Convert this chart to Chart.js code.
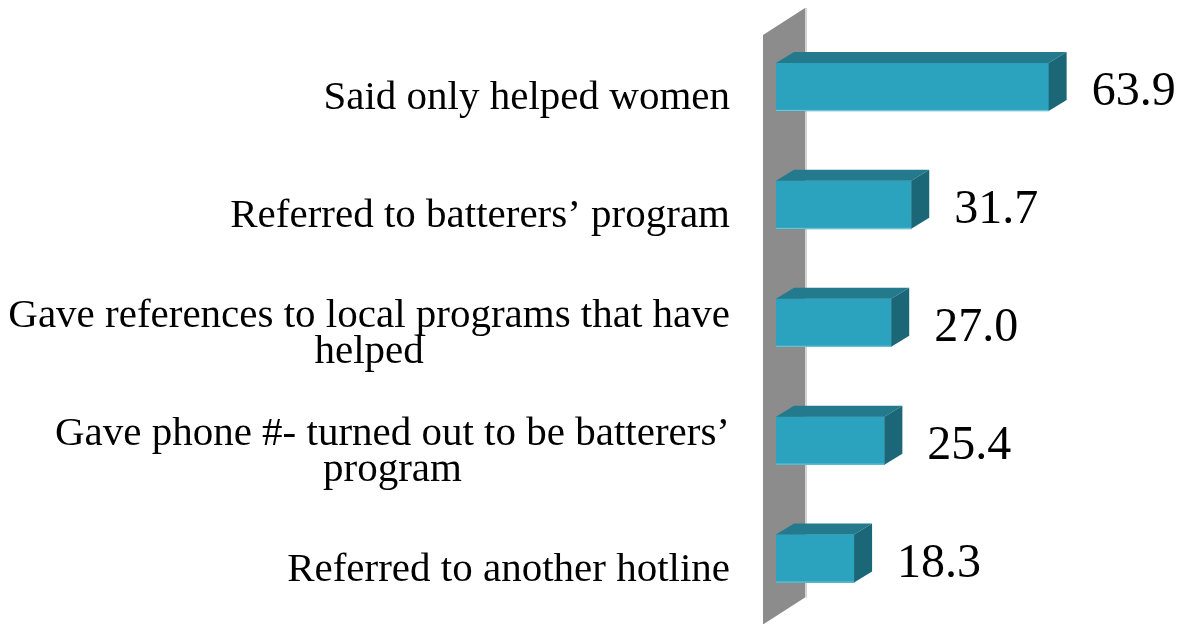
<!DOCTYPE html>
<html>
<head>
<meta charset="utf-8">
<script src="https://cdn.jsdelivr.net/npm/chart.js@4/dist/chart.umd.min.js"></script>
<style>
  html, body { margin: 0; padding: 0; background: #fff; }
  #wrap { width: 1192px; height: 624px; position: relative; }
</style>
</head>
<body>
<div id="wrap"><canvas id="chart"></canvas></div>
<script>
// category labels (multi-line ones are split into lines)
const categories = [
  ["Said only helped women"],
  ["Referred to batterers’ program"],
  ["Gave references to local programs that have", "helped"],
  ["Gave phone #- turned out to be batterers’", "program"],
  ["Referred to another hotline"]
];
const values = [63.9, 31.7, 27.0, 25.4, 18.3];

const FRONT = "#2ba3bf";
const TOP = "#237a8d";
const SIDE = "#1c6777";
const DEPTH_X = 18, DEPTH_Y = 11;

// grey 3D wall behind the bars
const wallPlugin = {
  id: "wall",
  beforeDatasetsDraw(chart) {
    const ctx = chart.ctx;
    const area = chart.chartArea;
    const x0 = chart.scales.x.getPixelForValue(0);
    ctx.save();
    ctx.fillStyle = "#8c8c8c";
    ctx.beginPath();
    ctx.moveTo(x0 - 13, area.top + 7);
    ctx.lineTo(x0 + 29, area.top - 20);
    ctx.lineTo(x0 + 29, area.bottom - 20);
    ctx.lineTo(x0 - 13, area.bottom + 7);
    ctx.closePath();
    ctx.fill();
    ctx.strokeStyle = "#d4d4d4";
    ctx.lineWidth = 2;
    ctx.beginPath();
    ctx.moveTo(x0 + 30, area.top - 20);
    ctx.lineTo(x0 + 30, area.bottom - 20);
    ctx.stroke();
    ctx.restore();
  }
};

// top and side faces of each bar, plus value labels
const barFacesPlugin = {
  id: "barFaces",
  afterDatasetsDraw(chart) {
    const ctx = chart.ctx;
    const meta = chart.getDatasetMeta(0);
    ctx.save();
    meta.data.forEach((bar, i) => {
      const top = bar.y - bar.height / 2;
      const bottom = bar.y + bar.height / 2;
      const left = bar.base;
      const right = bar.x;
      // top face
      ctx.fillStyle = TOP;
      ctx.beginPath();
      ctx.moveTo(left, top);
      ctx.lineTo(left + DEPTH_X, top - DEPTH_Y);
      ctx.lineTo(right + DEPTH_X, top - DEPTH_Y);
      ctx.lineTo(right, top);
      ctx.closePath();
      ctx.fill();
      // side face
      ctx.fillStyle = SIDE;
      ctx.beginPath();
      ctx.moveTo(right, top);
      ctx.lineTo(right + DEPTH_X, top - DEPTH_Y);
      ctx.lineTo(right + DEPTH_X, bottom - DEPTH_Y);
      ctx.lineTo(right, bottom);
      ctx.closePath();
      ctx.fill();
      // light bottom edge
      ctx.strokeStyle = "#7cc6d8";
      ctx.lineWidth = 1;
      ctx.beginPath();
      ctx.moveTo(left, bottom - 0.5);
      ctx.lineTo(right, bottom - 0.5);
      ctx.stroke();
      // value label
      ctx.fillStyle = "#000";
      ctx.font = "48px 'Liberation Serif', serif";
      ctx.textAlign = "left";
      ctx.textBaseline = "alphabetic";
      ctx.fillText(values[i].toFixed(1), right + 43, bar.y + 18);
    });
    ctx.restore();
  }
};

// category labels: block right-aligned, lines centred inside the block
const catLabelPlugin = {
  id: "catLabels",
  afterDraw(chart) {
    const ctx = chart.ctx;
    const yScale = chart.scales.y;
    const rightEdge = chart.chartArea.left - 46;
    const lineH = 36;
    ctx.save();
    ctx.fillStyle = "#000";
    ctx.font = "41px 'Liberation Serif', serif";
    ctx.textAlign = "center";
    ctx.textBaseline = "alphabetic";
    categories.forEach((lines, i) => {
      const y = yScale.getPixelForValue(i);
      const maxW = Math.max(...lines.map(l => ctx.measureText(l).width));
      const cx = rightEdge - maxW / 2;
      const first = y + 22 - (lines.length - 1) * lineH / 2;
      lines.forEach((l, k) => ctx.fillText(l, cx, first + k * lineH));
    });
    ctx.restore();
  }
};

new Chart(document.getElementById("chart"), {
  type: "bar",
  data: {
    labels: categories.map(c => c.join(" ")),
    datasets: [{
      data: values,
      backgroundColor: FRONT,
      borderWidth: 0,
      barThickness: 48
    }]
  },
  options: {
    indexAxis: "y",
    responsive: true,
    maintainAspectRatio: false,
    animation: false,
    layout: { padding: { left: 776, right: 32, top: 28, bottom: 6.5 } },
    plugins: {
      legend: { display: false },
      tooltip: { enabled: false }
    },
    scales: {
      x: { display: false, min: 0, max: 90 },
      y: { display: false, offset: true }
    }
  },
  plugins: [wallPlugin, barFacesPlugin, catLabelPlugin]
});
</script>
</body>
</html>
